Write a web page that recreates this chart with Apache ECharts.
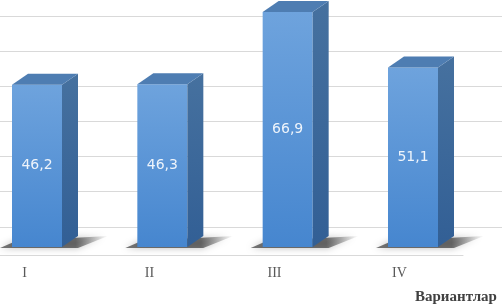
<!DOCTYPE html>
<html>
<head>
<meta charset="utf-8">
<script src="https://cdn.jsdelivr.net/npm/echarts@6/dist/echarts.min.js"></script>
<style>html,body{margin:0;padding:0;background:#fff;}#c{width:502px;height:304px;}</style>
</head>
<body>
<div id="c"></div>
<script>
const categories = ['I', 'II', 'III', 'IV'];
const values = [46.2, 46.3, 66.9, 51.1];
const axisName = 'Вариантлар';
const wallTicks = [0, 1, 2, 3, 4, 5, 6, 7];

const chart = echarts.init(document.getElementById('c'), null, {renderer: 'canvas'});

function fmt(v) { return String(v).replace('.', ','); }

function renderBar(params, api) {
  const i = api.value(0), v = api.value(1);
  const top = api.coord([i, v]);
  const base = api.coord([i, 0]);
  const w = 50, dx = 16, dy = 11;
  const xl = top[0] - w / 2, xr = top[0] + w / 2, yt = top[1], yb = base[1];
  return {
    type: 'group',
    children: [
      {
        type: 'polygon',
        shape: {points: [[xl - 12, yb + 1], [xl + 4, yb - 6], [xr + dx + 30, yb - 11], [xr + 16, yb + 1]]},
        style: {
          fill: new echarts.graphic.LinearGradient(0, 0, 1, 0, [
            {offset: 0, color: 'rgba(30,30,30,0.6)'},
            {offset: 0.7, color: 'rgba(30,30,30,0.6)'},
            {offset: 1, color: 'rgba(30,30,30,0)'}]),
          shadowBlur: 7, shadowColor: 'rgba(0,0,0,0.45)'
        }
      },
      {
        type: 'rect',
        shape: {x: xl, y: yt, width: w, height: yb - yt},
        style: {fill: new echarts.graphic.LinearGradient(0, 0, 0, 1, [
          {offset: 0, color: '#6ea3dd'}, {offset: 1, color: '#4686cf'}])}
      },
      {
        type: 'polygon',
        shape: {points: [[xr, yt], [xr + dx, yt - dy], [xr + dx, yb - dy], [xr, yb]]},
        style: {fill: new echarts.graphic.LinearGradient(0, 0, 0, 1, [
          {offset: 0, color: '#46719f'}, {offset: 1, color: '#325f95'}])}
      },
      {
        type: 'polygon',
        shape: {points: [[xl, yt], [xr, yt], [xr + dx, yt - dy], [xl + dx, yt - dy]]},
        style: {fill: '#4e7db2'}
      },
      {
        type: 'text',
        style: {
          text: fmt(v), x: top[0], y: (yt + yb) / 2,
          align: 'center', verticalAlign: 'middle',
          fill: '#eef4fb', fontSize: 14, fontFamily: '"DejaVu Sans", Verdana, sans-serif'
        }
      }
    ]
  };
}

chart.setOption({
  animation: false,
  title: {
    text: axisName, left: 410, top: 285,
    textStyle: {fontFamily: '"Liberation Serif", "Times New Roman", serif', fontWeight: 'bold', fontSize: 15, color: '#404040'}
  },
  grid: [
    {left: 0, right: 0, top: 16, bottom: 42},
    {left: 37, width: 376, top: 0, bottom: 57},
    {left: 24.5, width: 375, top: 100, bottom: 49},
    {left: 0, width: 463, top: 100, bottom: 49}
  ],
  xAxis: [
    {gridIndex: 0, type: 'value', min: 0, max: 1, show: false},
    {gridIndex: 1, type: 'value', min: 0, max: categories.length - 1, show: false},
    {gridIndex: 2, type: 'category', data: categories, boundaryGap: false,
      axisLine: {show: false}, axisTick: {show: false},
      axisLabel: {margin: 11, color: '#595959', fontSize: 14, fontFamily: '"Liberation Serif", "Times New Roman", serif'}},
    {gridIndex: 3, type: 'value', min: 0, max: 1,
      axisLine: {show: true, lineStyle: {color: '#d9d9d9', width: 1}},
      axisTick: {show: false}, axisLabel: {show: false}, splitLine: {show: false}}
  ],
  yAxis: [
    {gridIndex: 0, type: 'value', min: wallTicks[0], max: wallTicks[wallTicks.length - 1], interval: 1,
      axisLine: {show: false}, axisTick: {show: false}, axisLabel: {show: false},
      splitLine: {show: true, showMinLine: false, lineStyle: {color: '#d9d9d9', width: 1}}},
    {gridIndex: 1, type: 'value', min: 0, max: 70.3, show: false, splitLine: {show: false}},
    {gridIndex: 2, type: 'value', show: false, splitLine: {show: false}},
    {gridIndex: 3, type: 'value', show: false, splitLine: {show: false}}
  ],
  series: [{
    type: 'custom',
    xAxisIndex: 1, yAxisIndex: 1,
    renderItem: renderBar,
    data: values.map((v, i) => [i, v]),
    clip: false
  }]
});
</script>
</body>
</html>
